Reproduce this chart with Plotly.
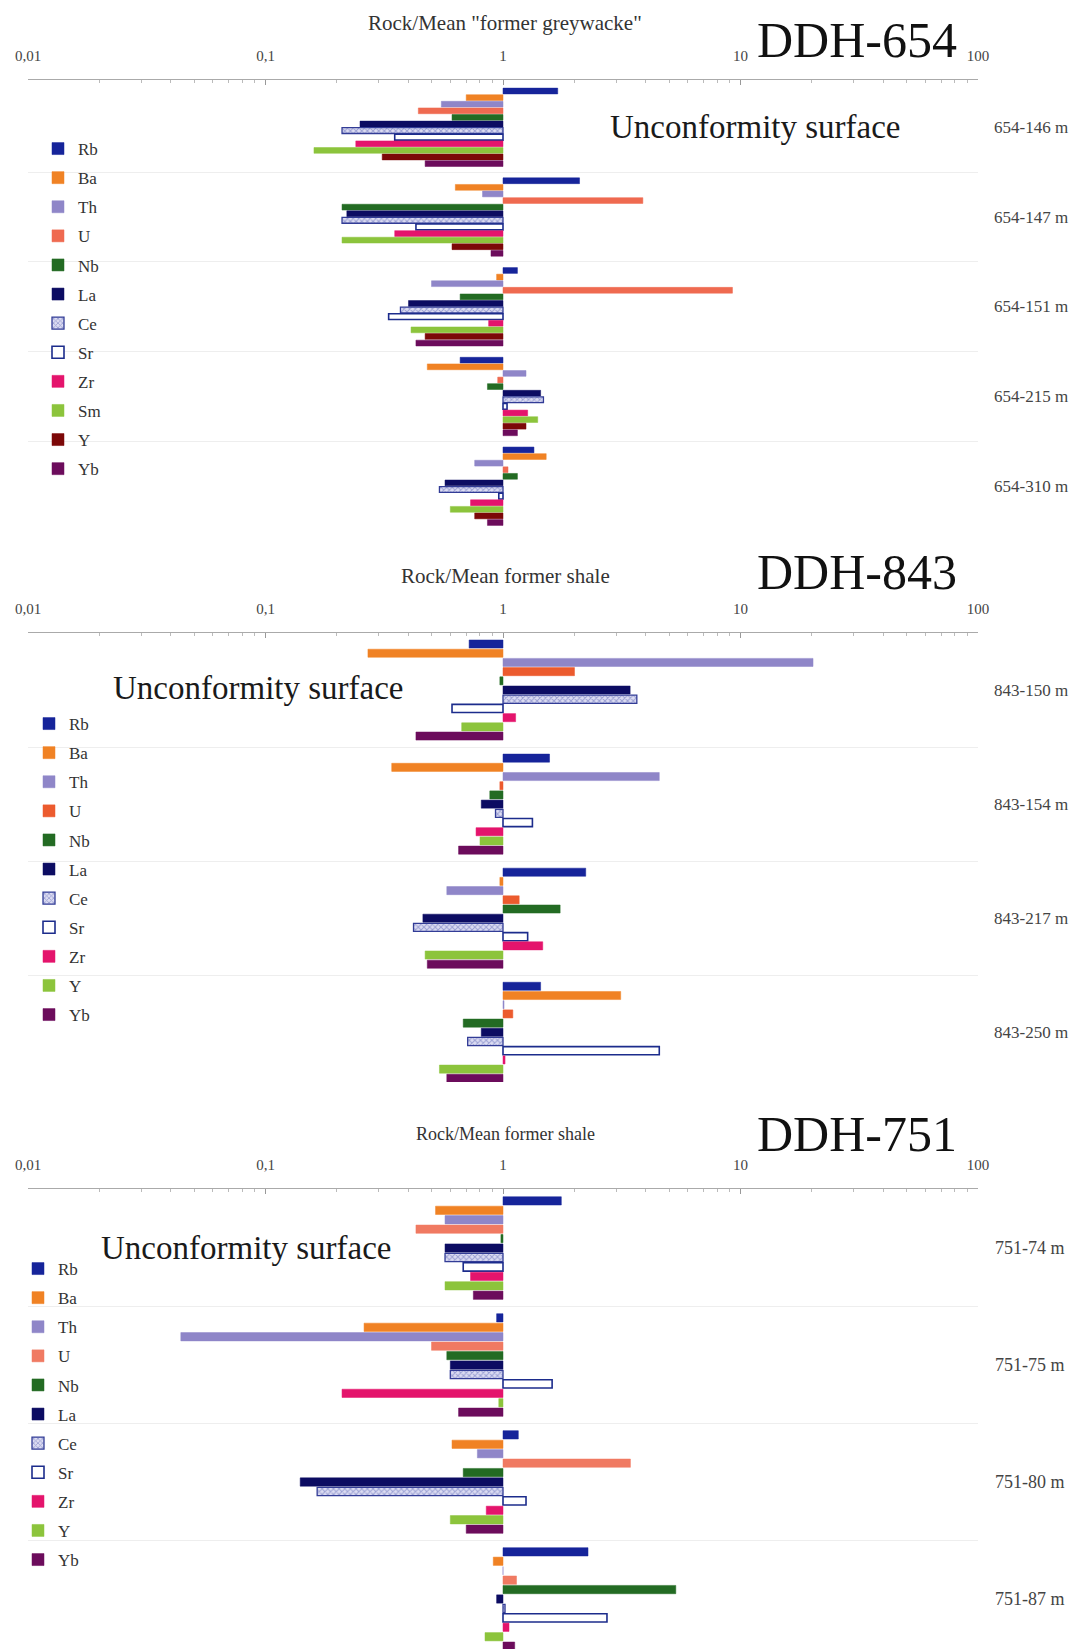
import plotly.graph_objects as go

W, H = 1080, 1649
OFF = 8  # page body margin around the plot div
ML, PW = 20, 950
MR = W - ML - PW
SERIF = "Liberation Serif, Times New Roman, serif"

# element order (top to bottom inside each sample group)
ELEMENTS_654 = ["Rb", "Ba", "Th", "U", "Nb", "La", "Ce", "Sr", "Zr", "Sm", "Y", "Yb"]
ELEMENTS_SHALE = ["Rb", "Ba", "Th", "U", "Nb", "La", "Ce", "Sr", "Zr", "Y", "Yb"]

# DDH-654, rock / mean "former greywacke"
SAMPLES_654 = ["654-146 m", "654-147 m", "654-151 m", "654-215 m", "654-310 m"]
R654_146 = [1.70, 0.70, 0.55, 0.44, 0.61, 0.25, 0.21, 0.35, 0.24, 0.16, 0.31, 0.47]
R654_147 = [2.10, 0.63, 0.82, 3.88, 0.21, 0.22, 0.21, 0.43, 0.35, 0.21, 0.61, 0.89]
R654_151 = [1.15, 0.94, 0.50, 9.25, 0.66, 0.40, 0.37, 0.33, 0.87, 0.41, 0.47, 0.43]
R654_215 = [0.66, 0.48, 1.25, 0.95, 0.86, 1.44, 1.48, 1.04, 1.27, 1.40, 1.25, 1.15]
R654_310 = [1.35, 1.52, 0.76, 1.05, 1.15, 0.57, 0.54, 0.96, 0.73, 0.60, 0.76, 0.86]

# DDH-843, rock / mean former shale
SAMPLES_843 = ["843-150 m", "843-154 m", "843-217 m", "843-250 m"]
R843_150 = [0.72, 0.27, 20.2, 2.00, 0.97, 3.43, 3.66, 0.61, 1.13, 0.67, 0.43]
R843_154 = [1.57, 0.34, 4.55, 0.97, 0.88, 0.81, 0.93, 1.33, 0.77, 0.80, 0.65]
R843_217 = [2.23, 0.97, 0.58, 1.17, 1.74, 0.46, 0.42, 1.27, 1.47, 0.47, 0.48]
R843_250 = [1.44, 3.13, 1.01, 1.10, 0.68, 0.81, 0.71, 4.55, 1.02, 0.54, 0.58]

# DDH-751, rock / mean former shale
SAMPLES_751 = ["751-74 m", "751-75 m", "751-80 m", "751-87 m"]
R751_74 = [1.76, 0.52, 0.57, 0.43, 0.98, 0.57, 0.57, 0.68, 0.73, 0.57, 0.75]
R751_75 = [0.94, 0.26, 0.044, 0.50, 0.58, 0.60, 0.60, 1.61, 0.21, 0.96, 0.65]
R751_80 = [1.16, 0.61, 0.78, 3.44, 0.68, 0.14, 0.165, 1.25, 0.85, 0.60, 0.70]
R751_87 = [2.28, 0.91, 1.00, 1.14, 5.34, 0.94, 1.02, 2.74, 1.06, 0.84, 1.12]

COLORS = {
    "Rb": "#16249a", "Ba": "#f08224", "Th": "#8f86c8", "U": "#ef6a50",
    "Nb": "#236b23", "La": "#0c0c62", "Ce": "#dcdcf2", "Sr": "#ffffff",
    "Zr": "#e4146c", "Sm": "#8cc43c", "Y": "#7c0808", "Yb": "#6c0c5c",
}


# screen pixel -> paper coordinates (the div sits OFF px into the page)
def px_x(px):
    return (px - OFF - ML) / PW


def px_y(py):
    return 1 - (py - OFF) / H


panels = [
    dict(elements=ELEMENTS_654, samples=SAMPLES_654,
         values=[R654_146, R654_147, R654_151, R654_215, R654_310],
         step=13.6, top=80, bottom=528, yrange=[66.23, -1.67],
         title="DDH-654", axis_title='Rock/Mean "former greywacke"', axis_title_size=21,
         title_y=40, axis_title_y=23, unconf=(755, 127), legend_xy=(38, 131),
         label_x=1031, u_color="#ef6a50", y_color="#7c0808", label_size=17),
    dict(elements=ELEMENTS_SHALE, samples=SAMPLES_843,
         values=[R843_150, R843_154, R843_217, R843_250],
         step=12.4, top=633, bottom=1082, yrange=[47.6, -1.2],
         title="DDH-843", axis_title="Rock/Mean former shale", axis_title_size=21,
         title_y=572, axis_title_y=576, unconf=(258, 688), legend_xy=(29, 706),
         label_x=1031, u_color="#ec5b2e", y_color="#8cc43c", label_size=17),
    dict(elements=ELEMENTS_SHALE, samples=SAMPLES_751,
         values=[R751_74, R751_75, R751_80, R751_87],
         step=12.4, top=1189, bottom=1649, yrange=[47.5, -1.26],
         title="DDH-751", axis_title="Rock/Mean former shale", axis_title_size=18,
         title_y=1134, axis_title_y=1134, unconf=(246, 1248), legend_xy=(18, 1251),
         label_x=1030, u_color="#f07a62", y_color="#8cc43c", label_size=18),
]

fig = go.Figure()
annotations = []
layout = {}

for k, p in enumerate(panels, start=1):
    sfx = "" if k == 1 else str(k)
    xa, ya = "x" + sfx, "y" + sfx
    leg = "legend" + sfx
    n = len(p["elements"])

    for j, el in enumerate(p["elements"]):
        vals = [row[j] for row in p["values"]]
        pos = [i * p["step"] + j for i in range(len(p["samples"]))]
        color = COLORS[el]
        if el == "U":
            color = p["u_color"]
        if el == "Y":
            color = p["y_color"]
        marker = dict(color=color, line=dict(color=color, width=0.5))
        if el == "Ce":
            marker = dict(color=color,
                          pattern=dict(shape="x", fgcolor="#5a64b4", size=4, solidity=0.45),
                          line=dict(color="#323c96", width=1.3))
        elif el == "Sr":
            marker = dict(color="#ffffff", line=dict(color="#1c2c8c", width=1.6))
        fig.add_trace(go.Bar(
            x=[v - 1 for v in vals], base=1, y=pos, orientation="h",
            width=0.88, name=el, marker=marker,
            xaxis=xa, yaxis=ya, legend=leg, legendgroup=f"{k}-{el}",
        ))

    # sample separators as light grid lines
    seps = [i * p["step"] - (p["step"] - n + 1) / 2 for i in range(1, len(p["samples"]))]
    dom = [max(0, px_y(p["bottom"])), px_y(p["top"])]

    layout["xaxis" + sfx] = dict(
        type="log", range=[-2, 2], domain=[0, 1], anchor=ya, side="top",
        tickvals=[0.01, 0.1, 1, 10, 100], ticktext=["0,01", "0,1", "1", "10", "100"],
        ticks="inside", ticklen=5, tickcolor="#999999", ticklabelstandoff=12,
        minor=dict(ticks="inside", ticklen=3, tickcolor="#bbbbbb", dtick="D1"),
        showline=True, linecolor="#aaaaaa", linewidth=1, showgrid=False, zeroline=False,
        tickfont=dict(family=SERIF, size=15, color="#444444"),
    )
    layout["yaxis" + sfx] = dict(
        domain=dom, range=p["yrange"], anchor=xa, tickvals=seps,
        showticklabels=False, ticks="", showgrid=True, gridcolor="#eeeeee",
        zeroline=False, showline=False,
    )
    lx, ly = p["legend_xy"]
    layout[leg] = dict(
        x=px_x(lx), y=px_y(ly), xanchor="left", yanchor="top",
        bgcolor="rgba(0,0,0,0)", tracegroupgap=4, traceorder="grouped",
        font=dict(family=SERIF, size=17, color="#333333"),
    )

    def note(text, x, y, size, color, yref="paper", xref="paper"):
        annotations.append(dict(text=text, x=x, y=y, xref=xref, yref=yref,
                                xanchor="center", yanchor="middle", showarrow=False,
                                font=dict(family=SERIF, size=size, color=color)))

    note(p["title"], px_x(857), px_y(p["title_y"]), 50, "#111111")
    note(p["axis_title"], px_x(505), px_y(p["axis_title_y"]), p["axis_title_size"], "#333333")
    ux, uy = p["unconf"]
    note("Unconformity surface", px_x(ux), px_y(uy), 33, "#1a1a1a")
    for i, s in enumerate(p["samples"]):
        note(s, px_x(p["label_x"]), i * p["step"] + (n - 1) / 2, p["label_size"], "#444444", yref=ya)

fig.update_layout(
    width=W, height=H,
    margin=dict(l=ML, r=MR, t=0, b=0),
    paper_bgcolor="white", plot_bgcolor="white",
    barmode="overlay", showlegend=True,
    annotations=annotations,
    **layout,
)

fig.write_html("out.html")
